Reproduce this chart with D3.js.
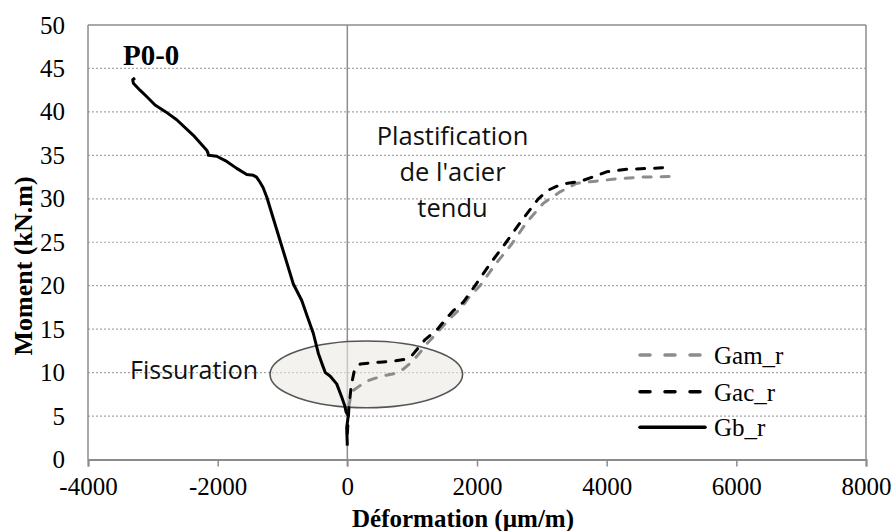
<!DOCTYPE html>
<html>
<head>
<meta charset="utf-8">
<script src="https://cdn.jsdelivr.net/npm/d3@7"></script>
<style>
html,body{margin:0;padding:0;background:#fff;}
svg{display:block;}
</style>
</head>
<body>
<svg id="chart" width="895" height="531"></svg>
<script>
// ---- data ----
const xTicks = [-4000, -2000, 0, 2000, 4000, 6000, 8000];
const yTicks = [0, 5, 10, 15, 20, 25, 30, 35, 40, 45, 50];
const seriesNames = ["Gam_r", "Gac_r", "Gb_r"];

const gamStrain = [20, 50, 100, 196, 330, 453, 600, 736, 864, 1018, 1120, 1224, 1350, 1481, 1620, 1764, 1900, 2047, 2278, 2536, 2767, 3024, 3281, 3539, 3795, 4155, 4566, 5106];
const gamMoment = [6.0, 7.2, 8.0, 8.5, 9.1, 9.4, 9.7, 9.9, 10.4, 11.4, 12.3, 13.3, 14.3, 15.4, 16.5, 17.5, 18.9, 20.0, 22.4, 24.8, 27.3, 29.5, 30.8, 31.8, 32.0, 32.3, 32.5, 32.6];

const gacStrain = [0, 25, 60, 110, 200, 350, 500, 700, 870, 1000, 1100, 1200, 1380, 1500, 1630, 1789, 1970, 2200, 2430, 2690, 2946, 3100, 3250, 3400, 3590, 3744, 4000, 4310, 4670, 4950];
const gacMoment = [3.0, 6.0, 8.5, 10.3, 11.0, 11.1, 11.2, 11.3, 11.5, 12.0, 12.9, 13.8, 14.9, 16.0, 17.1, 18.1, 20.0, 22.5, 24.8, 27.5, 30.0, 31.0, 31.5, 31.8, 32.0, 32.4, 33.1, 33.4, 33.5, 33.6];

const gbStrain = [0, -10, 15, -20, -40, -87, -164, -267, -340, -380, -447, -524, -620, -703, -833, -1038, -1243, -1300, -1347, -1400, -1450, -1552, -1706, -1860, -2015, -2144, -2150, -2169, -2375, -2632, -2800, -2966, -3100, -3198, -3300, -3310, -3275];
const gbMoment = [1.6, 3.7, 5.0, 5.5, 6.2, 7.2, 8.7, 9.6, 10.0, 10.8, 12.2, 14.5, 16.5, 18.3, 20.2, 25.2, 30.2, 31.3, 31.9, 32.5, 32.7, 32.8, 33.5, 34.3, 34.9, 35.0, 35.3, 35.6, 37.3, 39.1, 40.0, 40.8, 41.8, 42.5, 43.3, 43.7, 43.9];

// ---- layout ----
const svg = d3.select("#chart");
const L = 88, R = 866, T = 25, B = 459.5;
const x = d3.scaleLinear().domain([-4000, 8000]).range([L, R]);
const y = d3.scaleLinear().domain([0, 50]).range([B, T]);
const serif = "'Liberation Serif','Times New Roman',serif";
const sans = "'Open Sans','Noto Sans',sans-serif";
const axisGray = "#8c8c8c";

svg.append("rect").attr("width", 895).attr("height", 531).attr("fill", "#fff");

// gridlines
svg.append("g").selectAll("line").data(yTicks.filter(d => d > 0 && d < 50)).join("line")
  .attr("x1", L).attr("x2", R).attr("y1", d => y(d)).attr("y2", d => y(d))
  .attr("stroke", "#a6a6a6").attr("stroke-width", 1.2).attr("stroke-dasharray", "2,2");

// plot border (top, left, right)
svg.append("line").attr("x1", L).attr("x2", R).attr("y1", y(50)).attr("y2", y(50)).attr("stroke", axisGray).attr("stroke-width", 1.5);
svg.append("line").attr("x1", L).attr("x2", L).attr("y1", y(50)).attr("y2", B).attr("stroke", axisGray).attr("stroke-width", 1.5);
svg.append("line").attr("x1", R).attr("x2", R).attr("y1", y(50)).attr("y2", B).attr("stroke", axisGray).attr("stroke-width", 1.5);

// x axis
const xAxis = d3.axisBottom(x).tickValues(xTicks).tickSize(7).tickPadding(11).tickFormat(d3.format("d"));
const gx = svg.append("g").attr("transform", `translate(0,${B})`).call(xAxis);
gx.select(".domain").attr("stroke", axisGray).attr("stroke-width", 2);
gx.selectAll(".tick line").attr("stroke", axisGray).attr("stroke-width", 1.5);
gx.selectAll(".tick text").attr("font-family", serif).attr("font-size", 25).attr("fill", "#000")
  .text(d => d < 0 ? "-" + Math.abs(d) : d);

// y axis labels (left)
const yAxis = d3.axisLeft(y).tickValues(yTicks).tickSize(0).tickPadding(23);
const gy = svg.append("g").attr("transform", `translate(${L},0)`).call(yAxis);
gy.select(".domain").remove();
gy.selectAll(".tick text").attr("font-family", serif).attr("font-size", 25).attr("fill", "#000");

// vertical zero axis
svg.append("line").attr("x1", x(0)).attr("x2", x(0)).attr("y1", y(50)).attr("y2", B + 7)
  .attr("stroke", axisGray).attr("stroke-width", 1.5);

// ellipse annotation
svg.append("ellipse")
  .attr("cx", x(293)).attr("cy", y(9.8))
  .attr("rx", x(293 + 1485) - x(293)).attr("ry", y(0) - y(3.84))
  .attr("fill", "rgba(236,234,226,0.6)").attr("stroke", "#555").attr("stroke-width", 1.6);

// lines
const line = d3.line().x(d => x(d[0])).y(d => y(d[1]));
const gam = d3.zip(gamStrain, gamMoment);
const gac = d3.zip(gacStrain, gacMoment);
const gb = d3.zip(gbStrain, gbMoment);

svg.append("path").datum(gam).attr("d", line).attr("fill", "none")
  .attr("stroke", "#8c8c8c").attr("stroke-width", 3).attr("stroke-dasharray", "8,10").attr("stroke-linecap", "round").attr("stroke-linejoin", "round");
svg.append("path").datum(gac).attr("d", line).attr("fill", "none")
  .attr("stroke", "#000").attr("stroke-width", 3).attr("stroke-dasharray", "8,10").attr("stroke-linecap", "round").attr("stroke-linejoin", "round");
svg.append("path").datum(gb).attr("d", line).attr("fill", "none")
  .attr("stroke", "#000").attr("stroke-width", 3).attr("stroke-linejoin", "round");

// annotations
svg.append("text").attr("x", 130).attr("y", 379).attr("font-family", sans).attr("font-size", 25)
  .attr("fill", "#111").text("Fissuration");
const plast = ["Plastification", "de l'acier", "tendu"];
svg.append("g").selectAll("text").data(plast).join("text")
  .attr("x", 452.5).attr("y", (d, i) => 145 + i * 36).attr("text-anchor", "middle")
  .attr("font-family", sans).attr("font-size", 25.5).attr("fill", "#111").text(d => d);

svg.append("text").attr("x", 123).attr("y", 65).attr("font-family", serif).attr("font-weight", "bold")
  .attr("font-size", 29).attr("fill", "#000").text("P0-0");

// legend
const legStyles = [
  {c: "#8c8c8c", dash: "10,15"},
  {c: "#000", dash: "10,15"},
  {c: "#000", dash: null}
];
const legY = [355, 391.7, 427.3];
const lg = svg.append("g");
seriesNames.forEach((n, i) => {
  const ln = lg.append("line").attr("x1", 640).attr("x2", 705).attr("y1", legY[i]).attr("y2", legY[i])
    .attr("stroke", legStyles[i].c).attr("stroke-width", 3.5).attr("stroke-linecap", "round");
  if (legStyles[i].dash) ln.attr("stroke-dasharray", legStyles[i].dash);
  lg.append("text").attr("x", 714).attr("y", legY[i] + 9).attr("font-family", serif).attr("font-size", 25)
    .attr("fill", "#000").text(n);
});

// axis titles
svg.append("text").attr("x", 463).attr("y", 527).attr("text-anchor", "middle")
  .attr("font-family", serif).attr("font-weight", "bold").attr("font-size", 25).text("Déformation (µm/m)");
svg.append("text").attr("transform", "translate(32,266) rotate(-90)").attr("text-anchor", "middle")
  .attr("font-family", serif).attr("font-weight", "bold").attr("font-size", 26).text("Moment (kN.m)");
</script>
</body>
</html>
